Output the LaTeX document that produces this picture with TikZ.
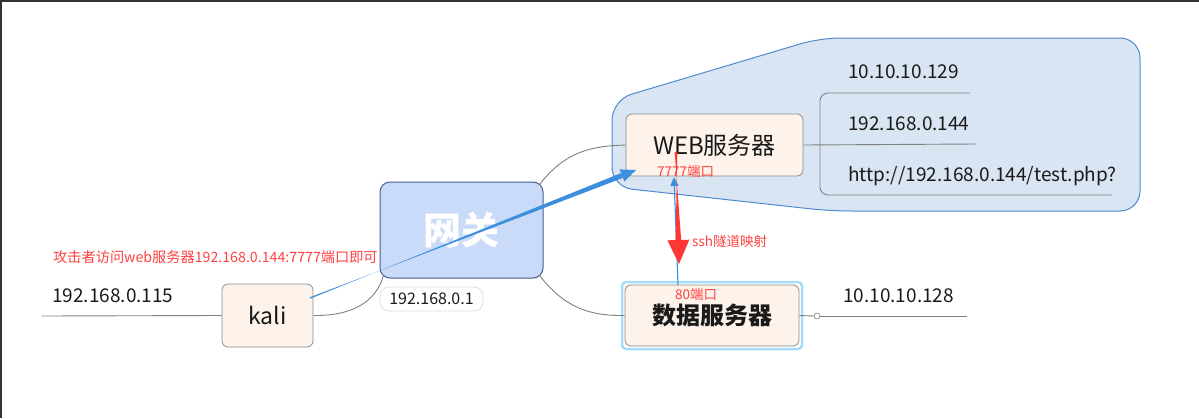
\documentclass[tikz,border=0pt]{standalone}
\usepackage{fontspec}
\setmainfont{Noto Sans CJK SC}
\usetikzlibrary{calc,arrows.meta}
\definecolor{peach}{HTML}{FDF3EA}
\definecolor{boxline}{HTML}{8C8C8C}
\definecolor{gwfill}{HTML}{C9DBF9}
\definecolor{gwline}{HTML}{4B5E8C}
\definecolor{regfill}{HTML}{D9E5F3}
\definecolor{regline}{HTML}{4F8AD0}
\definecolor{hilite}{HTML}{A6DEFA}
\definecolor{conn}{HTML}{808080}
\definecolor{bluearr}{HTML}{3B8FDD}
\definecolor{redarr}{HTML}{FF3636}
\definecolor{redtxt}{HTML}{FF4040}
\definecolor{txt}{HTML}{1A1A1A}
\tikzset{
  topic/.style={draw=boxline, fill=peach, rounded corners=6pt, line width=0.8pt, inner sep=0pt, text=txt},
  conline/.style={draw=conn, line width=0.9pt},
  lbl/.style={anchor=base west, inner sep=0pt, text=txt, font=\fontsize{19}{19}\selectfont},
  redlbl/.style={inner sep=0pt, text=redtxt, font=\fontsize{13.5}{13.5}\selectfont},
}
\begin{document}
\begin{tikzpicture}[x=1pt,y=-1pt]
\useasboundingbox (0,0) rectangle (1199,418);
\draw[color=black!80, line width=1.5pt] (0.75,418) -- (0.75,0.75) -- (1199,0.75);

% blue region
\draw[fill=regfill, draw=regline, line width=1pt, rounded corners=20pt]
  (612,150) -- (612,100) -- (820,38) -- (1140,38) -- (1140,211) -- (830,211) -- (612,187) -- cycle;

% left line and kali
\node[topic, minimum width=91pt, minimum height=63pt, font=\fontsize{23}{23}\selectfont] (kali) at (267.5,315.5) {kali};
\coordinate (lstart) at (42,316);
\draw[conline] (lstart) -- (kali.west);
\node[lbl] (ip115) at (52,302) {192.168.0.115};

% gateway
\node[draw=gwline, fill=gwfill, rounded corners=10pt, line width=1pt, minimum width=163pt, minimum height=96pt, inner sep=0pt, text=white, font=\fontsize{38}{38}\selectfont\bfseries] (gw) at (461.5,230) {网关};
\node[draw=black!13, fill=white, rounded corners=9pt, line width=0.8pt, minimum width=103pt, minimum height=24pt, inner sep=0pt, text=txt, font=\fontsize{16}{16}\selectfont] (gwip) at (431.5,299) {192.168.0.1};

% web server
\node[topic, minimum width=177pt, minimum height=62pt, font=\fontsize{24}{24}\selectfont] (web) at (714.5,145) {WEB服务器};

% db server
\node[draw=hilite, line width=2.5pt, rounded corners=4pt, minimum width=180pt, minimum height=67pt, inner sep=0pt] (dbhl) at (712,315.5) {};
\node[topic, minimum width=174pt, minimum height=61pt, font=\fontsize{24}{24}\selectfont\bfseries] (db) at (712,315.5) {数据服务器};

% connectors
\draw[conline] (kali.east) .. controls (352,316) and (376,302) .. ($(gw.south west)+(4,-3)$);
\draw[conline] ($(gw.north east)+(-4,3)$) .. controls (565,152) and (590,146) .. (web.west);
\draw[conline] ($(gw.south east)+(-4,-3)$) .. controls (565,308) and (590,316) .. (db.west);

% web bracket
\draw[conline] (web.east) -- (976,144);
\draw[conline, rounded corners=8pt] (970,93) -- (820,93) -- (820,195) -- (1112,195);
\node[lbl] (ip129) at (848,78) {10.10.10.129};
\node[lbl] (ip144) at (848,130) {192.168.0.144};
\node[lbl] (url) at (848,181) {http://192.168.0.144/test.php?};

% db right
\coordinate (dbc) at (817,316);
\coordinate (dbend) at (967,316);
\draw[conline] (db.east) -- ($(dbc)+(-3,0)$);
\draw[conline] ($(dbc)+(3,0)$) -- (dbend);
\draw[draw=conn, fill=white, line width=0.6pt] (dbc) circle (3);
\node[lbl] (ip128) at (843,302) {10.10.10.128};

% blue connector db -> web (under red arrow)
\coordinate (bdbtop) at (678,285);
\coordinate (bwebbot) at (674,177);
\draw[draw=bluearr, line width=1.1pt, -{Triangle[length=9pt,width=8pt]}] (bdbtop) -- (bwebbot);

% red tapered arrow
\coordinate (rtop) at (676,152);
\coordinate (rtip) at (679,264);
\coordinate (rbase) at ($(rtip)!24pt!(rtop)$);
\fill[redarr] ($(rtop)!1.3pt!90:(rtip)$) -- ($(rtop)!1.3pt!-90:(rtip)$) -- ($(rbase)!2.8pt!90:(rtip)$) -- ($(rbase)!2.8pt!-90:(rtip)$) -- cycle;
\fill[redarr] (rtip) -- ($(rbase)!11pt!90:(rtip)$) -- ($(rbase)!11pt!-90:(rtip)$) -- cycle;

% blue tapered arrow kali -> web
\coordinate (bs) at (310,298);
\coordinate (bt) at (636,170);
\coordinate (bb) at ($(bt)!15pt!(bs)$);
\fill[bluearr] ($(bs)!0.7pt!90:(bt)$) -- ($(bs)!0.7pt!-90:(bt)$) -- ($(bb)!2.6pt!90:(bt)$) -- ($(bb)!2.6pt!-90:(bt)$) -- cycle;
\fill[bluearr] (bt) -- ($(bb)!6.5pt!90:(bt)$) -- ($(bb)!6.5pt!-90:(bt)$) -- cycle;

% red labels
\node[redlbl, anchor=west] (l7777) at (657,171) {7777端口};
\node[redlbl, anchor=west] (l80) at (675,294) {80端口};
\node[redlbl, anchor=west] (lssh) at (692,241) {ssh隧道映射};
\node[redlbl, anchor=west, font=\fontsize{14.2}{14.2}\selectfont] (latk) at (53,257) {攻击者访问web服务器192.168.0.144:7777端口即可};
\end{tikzpicture}
\end{document}
